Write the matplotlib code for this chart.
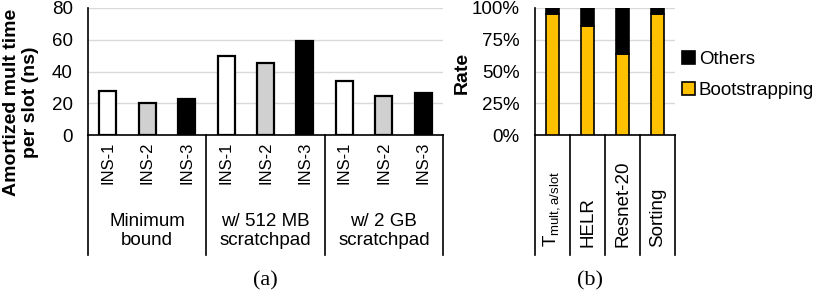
import numpy as np
import matplotlib
matplotlib.use('Agg')
from matplotlib import pyplot as plt

plt.rcParams['font.family'] = ['Liberation Sans', 'DejaVu Sans']
plt.rcParams['font.size'] = 11

# data, panel (a)
groups = ['Minimum\nbound', 'w/ 512 MB\nscratchpad', 'w/ 2 GB\nscratchpad']
ins_labels = ['INS-1', 'INS-2', 'INS-3']
ins1 = [28, 50, 34]
ins2 = [20, 45.5, 24.5]
ins3 = [22.5, 59.5, 26.5]

# data, panel (b)
apps = [r'T$_{\mathregular{mult,a/slot}}$', 'HELR', 'Resnet-20', 'Sorting']
boot = [95.5, 85.5, 63.5, 95.5]
others = [100 - b for b in boot]

W, H = 813, 293
fig = plt.figure(figsize=(W / 100, H / 100), dpi=100)

def px_axes(x0, y0, x1, y1):
    return fig.add_axes([x0 / W, 1 - y1 / H, (x1 - x0) / W, (y1 - y0) / H])

# ---- (a)
ax = px_axes(88, 8, 443, 135)
vals = np.array([ins1, ins2, ins3]).T  # rows = group
colors = ['white', '#d0d0d0', 'black']
xs = np.arange(9)
for g in range(3):
    for i in range(3):
        ax.bar(g * 3 + i, vals[g, i], width=0.43, color=colors[i],
               edgecolor='black', linewidth=1.6, zorder=3)
ax.set_xlim(-0.5, 8.5)
ax.set_ylim(0, 80)
ax.set_yticks([0, 20, 40, 60, 80])
ax.yaxis.grid(True, color='#d9d9d9', linewidth=1)
ax.set_axisbelow(True)
for s in ['top', 'right']:
    ax.spines[s].set_visible(False)
ax.spines['left'].set_linewidth(1.2)
ax.spines['bottom'].set_linewidth(1.2)
ax.tick_params(axis='y', length=0, pad=11, labelsize=13.5)
ax.set_xticks(xs)
ax.set_xticklabels(ins_labels * 3, rotation=90, fontsize=12)
ax.tick_params(axis='x', length=0, pad=5)
fig.text(21 / W, 1 - 102 / H, 'Amortized mult time\nper slot (ns)',
         rotation=90, ha='center', va='center', fontweight='bold',
         fontsize=14, linespacing=1.2, multialignment='center')
depth = (255 - 135) / 127
for k in range(4):
    ax.plot([k / 3, k / 3], [0, -depth], transform=ax.transAxes,
            color='black', linewidth=1.2, clip_on=False)
for g in range(3):
    ax.text((g + 0.5) / 3, -(231 - 135) / 127, groups[g], transform=ax.transAxes,
            ha='center', va='center', fontsize=13.5, linespacing=1.15)
fig.text(265 / W, 1 - 281 / H, '(a)', ha='center', va='center',
         fontsize=16, family='Liberation Serif')

# ---- (b)
bx = px_axes(535, 8, 675, 135)
xb = np.arange(len(apps))
bx.bar(xb, boot, width=0.38, color='#ffc000', edgecolor='black',
       linewidth=1.2, zorder=3, label='Bootstrapping')
bx.bar(xb, others, width=0.38, bottom=boot, color='black', edgecolor='black',
       linewidth=1.2, zorder=3, label='Others')
bx.set_xlim(-0.5, 3.5)
bx.set_ylim(0, 100)
bx.set_yticks([0, 25, 50, 75, 100])
bx.set_yticklabels(['0%', '25%', '50%', '75%', '100%'])
bx.yaxis.grid(True, color='#d9d9d9', linewidth=1)
bx.set_axisbelow(True)
for s in ['top', 'right']:
    bx.spines[s].set_visible(False)
bx.spines['left'].set_linewidth(1.2)
bx.spines['bottom'].set_linewidth(1.2)
bx.tick_params(axis='y', length=0, pad=11, labelsize=13.5)
bx.set_xticks([])
fig.text(462 / W, 1 - 73 / H, 'Rate', rotation=90, ha='center', va='center',
         fontweight='bold', fontsize=14)
for k in range(5):
    bx.plot([k / 4, k / 4], [0, -depth], transform=bx.transAxes,
            color='black', linewidth=1.2, clip_on=False)
for k in range(4):
    bx.text((k + 0.5) / 4, -(247 - 135) / 127, apps[k], transform=bx.transAxes,
            rotation=90, ha='center', va='bottom', fontsize=13.5)
h, l = bx.get_legend_handles_labels()
bx.legend(h[::-1], l[::-1], loc='center left', bbox_to_anchor=(0.97, 0.47),
          frameon=False, fontsize=13.5, handlelength=0.7, handleheight=0.7,
          handletextpad=0.2, labelspacing=0.75, borderaxespad=0.2)
fig.text(590 / W, 1 - 281 / H, '(b)', ha='center', va='center',
         fontsize=16, family='Liberation Serif')

fig.savefig('out.png', dpi=100)
